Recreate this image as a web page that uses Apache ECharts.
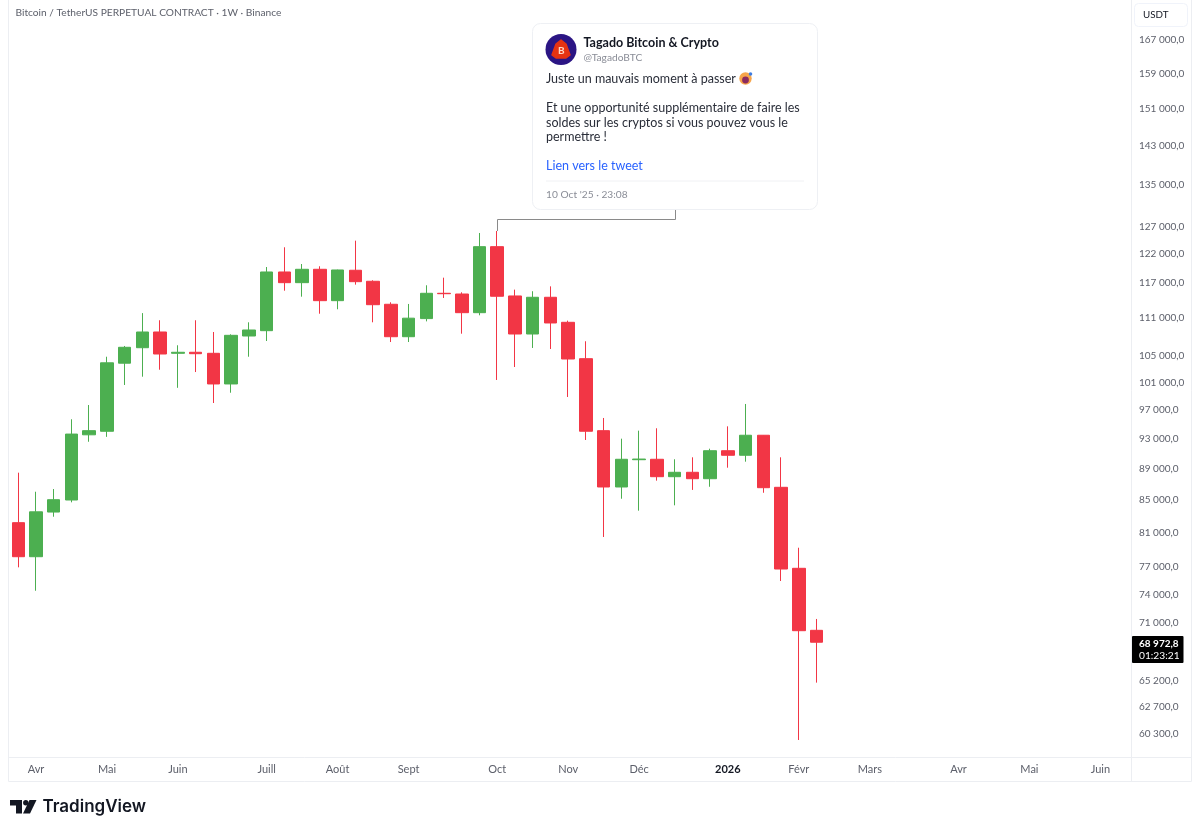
<!DOCTYPE html>
<html>
<head>
<meta charset="utf-8">
<title>Bitcoin / TetherUS 1W</title>
<script src="https://cdn.jsdelivr.net/npm/echarts@6/dist/echarts.min.js"></script>
<style>
  html, body { margin: 0; padding: 0; background: #fff; }
  #chart { width: 1200px; height: 833px; }
</style>
</head>
<body>
<div id="chart"></div>
<script>
// weekly candles, the last ones have no price yet
const weeks = [
  '2025-03-31','2025-04-07','2025-04-14','2025-04-21','2025-04-28','2025-05-05','2025-05-12','2025-05-19','2025-05-26',
  '2025-06-02','2025-06-09','2025-06-16','2025-06-23','2025-06-30','2025-07-07','2025-07-14','2025-07-21','2025-07-28',
  '2025-08-04','2025-08-11','2025-08-18','2025-08-25','2025-09-01','2025-09-08','2025-09-15','2025-09-22','2025-09-29',
  '2025-10-06','2025-10-13','2025-10-20','2025-10-27','2025-11-03','2025-11-10','2025-11-17','2025-11-24','2025-12-01',
  '2025-12-08','2025-12-15','2025-12-22','2025-12-29','2026-01-05','2026-01-12','2026-01-19','2026-01-26','2026-02-02',
  '2026-02-09','2026-02-16','2026-02-23','2026-03-02','2026-03-09','2026-03-16','2026-03-23','2026-03-30','2026-04-06',
  '2026-04-13','2026-04-20','2026-04-27','2026-05-04','2026-05-11','2026-05-18','2026-05-25','2026-06-01','2026-06-08'
];
const opens = [
  82210,78200,83500,84990,93530,94015,103900,106290,108770,105420,105580,105420,100780,108130,108980,118790,116940,119260,
  113890,119090,117180,113290,108020,110930,115130,115010,111900,123290,114680,108450,114460,110330,104590,94100,86630,90170,
  90230,87950,88520,87690,91370,90760,93470,86590,76880,70190
];
const closes = [
  78200,83530,85030,93630,94100,103960,106355,108770,105310,105580,105360,100780,108240,109090,118790,116940,119260,113890,
  119140,117110,113220,108020,111000,115130,115060,111900,123290,114630,108450,114460,110220,104540,94020,86630,90230,90260,
  87950,88520,87690,91370,90760,93470,86540,76800,70150,68972.8
];
const lows = [
  76990,74390,82930,84700,92580,93250,100630,101860,102910,100210,102560,98000,99490,104890,107340,115570,114560,111730,
  112460,116600,110330,107180,107180,110480,114340,108500,111470,101370,103320,106250,106090,98870,92820,80500,85150,83670,
  87440,84330,86260,86660,89120,89910,85900,75460,59750,65000
];
const highs = [
  88470,86030,86370,95690,97710,104890,106560,111830,110660,106670,110660,108770,108400,110330,119660,123180,120190,119790,
  119200,124380,117350,113620,113340,116490,117800,115300,125790,126160,115750,115480,116310,110600,107300,95870,93000,94100,
  94430,90230,90490,91640,94700,97860,93500,90490,79240,71370
];

const priceTicks = [60300,62700,65200,71000,74000,77000,81000,85000,89000,93000,97000,101000,105000,111000,117000,122000,127000,135000,143000,151000,159000,167000];
const monthTickWeeks = ['2025-04-07','2025-05-05','2025-06-02','2025-07-07','2025-08-04','2025-09-01','2025-10-06','2025-11-03','2025-12-01','2026-01-05','2026-02-02','2026-03-02','2026-04-06','2026-05-04','2026-06-01'];
const monthTickLabels = ['Avr','Mai','Juin','Juill','Août','Sept','Oct','Nov','Déc','2026','Févr','Mars','Avr','Mai','Juin'];

const tweetLines = [
  { text: 'Juste un mauvais moment à passer', y: 79 },
  { text: 'Et une opportunité supplémentaire de faire les', y: 108 },
  { text: 'soldes sur les cryptos si vous pouvez vous le', y: 122.5 },
  { text: 'permettre !', y: 137 }
];

const font = 'Lato, sans-serif';
const upColor = '#4caf50';
const downColor = '#f23645';
const frameColor = '#eceef2';

const fmtPrice = (v) => {
  const s = v.toFixed(1).replace('.', ',');
  return s.replace(/\B(?=(\d{3})(?!\d))/g, '\u202f');
};

const candles = opens.map((o, i) => [o, closes[i], lows[i], highs[i]]);

function line(x1, y1, x2, y2, color, width) {
  return { type: 'line', silent: true, shape: { x1, y1, x2, y2 }, style: { stroke: color, lineWidth: width || 1 } };
}
function label(text, x, y, size, color, weight) {
  return {
    type: 'text', silent: true, x, y,
    style: { text, fill: color, font: (weight || 'normal') + ' ' + size + 'px ' + font, textVerticalAlign: 'middle' }
  };
}

const chart = echarts.init(document.getElementById('chart'), null, { renderer: 'canvas' });

chart.setOption({
  animation: false,
  backgroundColor: '#fff',
  grid: { left: 9.4, top: 0, width: 1117.6, height: 757 },
  xAxis: {
    type: 'category',
    data: weeks,
    boundaryGap: true,
    axisLine: { show: false },
    axisTick: { show: false },
    splitLine: { show: false },
    axisLabel: {
      interval: 0,
      margin: 7,
      fontFamily: font,
      fontSize: 11,
      color: '#5d606b',
      formatter: (v) => {
        const i = monthTickWeeks.indexOf(v);
        if (i < 0) return '';
        return monthTickLabels[i] === '2026' ? '{y|2026}' : monthTickLabels[i];
      },
      rich: { y: { fontFamily: font, fontSize: 11, fontWeight: 'bold', color: '#131722' } }
    }
  },
  yAxis: {
    type: 'log',
    logBase: 10,
    position: 'right',
    min: 58276,
    max: 177100,
    axisLine: { show: false },
    axisTick: { show: false },
    splitLine: { show: false },
    axisLabel: {
      customValues: priceTicks,
      margin: 12,
      padding: [2, 0, 0, 0],
      fontFamily: font,
      fontSize: 10,
      color: '#5d606b',
      formatter: fmtPrice
    }
  },
  series: [{
    type: 'candlestick',
    data: candles,
    barWidth: 13,
    itemStyle: {
      color: upColor,
      color0: downColor,
      borderColor: upColor,
      borderColor0: downColor,
      borderWidth: 1
    }
  }],
  graphic: [
    // frame
    line(8.5, 0, 8.5, 781.5, frameColor),
    line(8.5, 757.5, 1191.5, 757.5, frameColor),
    line(8.5, 781.5, 1191.5, 781.5, frameColor),
    line(1131.5, 0, 1131.5, 781.5, frameColor),
    line(1191.5, 0, 1191.5, 781.5, frameColor),
    label('Bitcoin / TetherUS PERPETUAL CONTRACT · 1W · Binance', 15.5, 13, 10.2, '#5d606b'),
    // currency button
    { type: 'rect', silent: true, shape: { x: 1134.5, y: 3.5, width: 53, height: 23, r: 4 }, style: { fill: '#fff', stroke: '#f0f3fa' } },
    label('USDT', 1143, 15, 9.8, '#131722'),
    // last price tag
    { type: 'rect', silent: true, shape: { x: 1132, y: 636, width: 51.5, height: 27, r: 1 }, style: { fill: '#000' } },
    label(fmtPrice(68972.8), 1139, 643.5, 10, '#fff', '700'),
    label('01:23:21', 1139, 655.5, 10.2, '#fff'),
    // connector from the tweet card to the candle
    { type: 'polyline', silent: true, shape: { points: [[497.5, 231], [497.5, 219.5], [675.5, 219.5], [675.5, 209]] }, style: { stroke: '#8a8a8a', fill: null, lineWidth: 1 } },
    // tweet card
    {
      type: 'rect', silent: true,
      shape: { x: 532.5, y: 23.5, width: 285, height: 186, r: 8 },
      style: { fill: '#fff', stroke: '#eef0f4', lineWidth: 1 }
    },
    { type: 'circle', silent: true, shape: { cx: 561, cy: 49.5, r: 15.5 }, style: { fill: '#2b1584' } },
    { type: 'polygon', silent: true, shape: { points: [[561, 40], [566, 44], [570, 55], [566, 58], [556, 58], [552, 55], [556, 44]] }, style: { fill: '#e63312', stroke: '#e63312', lineJoin: 'round', lineWidth: 1.5 } },
    label('B', 558, 50.5, 10, '#ffd9c9', 'bold'),
    label('Tagado Bitcoin & Crypto', 583.5, 43, 12.5, '#131722', 'bold'),
    label('@TagadoBTC', 583.5, 58, 10.2, '#8a8d97'),
    ...tweetLines.map((l) => label(l.text, 546, l.y, 12.5, '#2a2e39')),
    { type: 'circle', silent: true, shape: { cx: 745.5, cy: 78.5, r: 6.2 }, style: { fill: '#f7a54a' } },
    { type: 'circle', silent: true, shape: { cx: 745.5, cy: 80, r: 3.4 }, style: { fill: '#8b2a5e' } },
    { type: 'circle', silent: true, shape: { cx: 750.5, cy: 74, r: 1.8 }, style: { fill: '#3f7de0' } },
    label('Lien vers le tweet', 546, 166, 12.5, '#2962ff'),
    line(546, 181, 804, 181, '#f0f1f4', 1),
    label('10 Oct \'25 · 23:08', 546, 194.5, 10.2, '#8a8d97'),
    // TradingView logo
    { type: 'polygon', silent: true, shape: { points: [[10, 800], [22, 800], [22, 813.5], [16, 813.5], [16, 805.5], [10, 805.5]] }, style: { fill: '#131722' } },
    { type: 'circle', silent: true, shape: { cx: 25.8, cy: 802.8, r: 2.7 }, style: { fill: '#131722' } },
    { type: 'polygon', silent: true, shape: { points: [[29.5, 800], [36.5, 800], [30, 813.5], [23, 813.5]] }, style: { fill: '#131722' } },
    {
      type: 'text', silent: true, x: 42.5, y: 807,
      style: { text: 'TradingView', fill: '#131722', font: '600 17px Inter, sans-serif', textVerticalAlign: 'middle' }
    }
  ]
});
</script>
</body>
</html>
